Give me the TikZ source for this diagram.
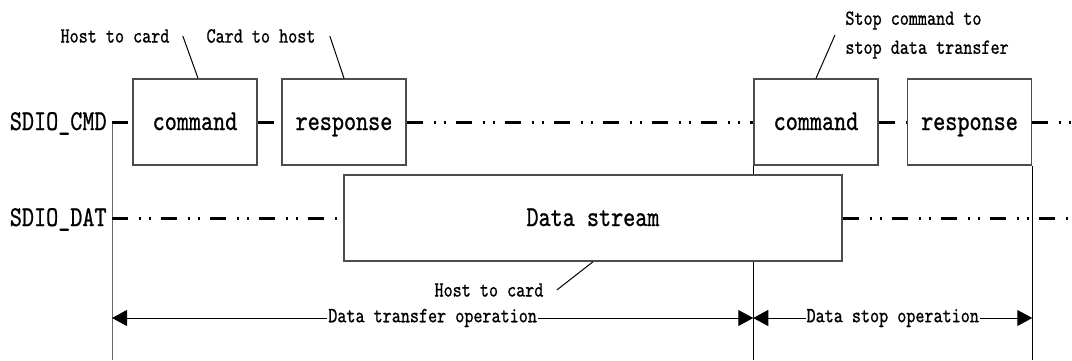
\documentclass[tikz,border=0pt]{standalone}
\usepackage{fontspec}
\setmonofont{lmmono10-regular.otf}[FakeStretch=0.8, FakeBold=0.8]
\usetikzlibrary{arrows.meta,positioning}

\newcommand\sigfont{\ttfamily\fontsize{14.4}{17}\selectfont}
\newcommand\notefont{\ttfamily\fontsize{10.8}{14.5}\selectfont}

\tikzset{
  sigbox/.style={draw=black!70, line width=0.75pt, fill=white, minimum width=62pt, minimum height=43pt, inner sep=0pt, text height=8pt, text depth=0pt, font=\sigfont},
  signame/.style={font=\sigfont, inner sep=0pt, text height=8pt, text depth=0pt, anchor=east},
  notetext/.style={font=\notefont, inner sep=0pt, align=left},
  idle/.style={line width=1.5pt, dash pattern=on 8pt off 5.5pt on 1pt off 4pt on 1pt off 5pt},
  leader/.style={line width=0.5pt},
  opspan/.style={line width=0.5pt, {Triangle[length=7.5pt,width=8pt]}-{Triangle[length=7.5pt,width=8pt]}},
}

\begin{document}
\begin{tikzpicture}[x=0.5pt, y=-0.5pt]
\useasboundingbox (0,0) rectangle (1072,360);

% signal names
\node[signame] (cmd) at (107,122) {SDIO\_CMD};
\node[signame] (dat) at (107,218) {SDIO\_DAT};

% command line boxes
\node[sigbox] (cmdA) at (195,122) {command};
\node[sigbox] (rspA) at (344,122) {response};
\node[sigbox] (cmdB) at (816,122) {command};
\node[sigbox] (rspB) at (969.5,122) {response};

% markers
\coordinate (cmdL) at (112,122);
\coordinate (cmdR) at (1072,122);
\coordinate (datL) at (112,218);
\coordinate (datR) at (1072,218);
\coordinate (opL) at (112,318);
\coordinate (opM) at (cmdB.west |- opL);
\coordinate (opR) at (rspB.east |- opL);

% vertical time marks
\draw[line width=0.5pt, black!60] (cmdL) -- (cmdL |- 0,360);
\draw[line width=0.5pt] (cmdB.south west) -- (cmdB.south west |- 0,360);
\draw[line width=0.5pt] (rspB.south east) -- (rspB.south east |- 0,360);

% data box on top of the marks
\node[sigbox, minimum width=249pt] (data) at (593,218) {Data stream};

% idle bus
\draw[idle] (cmdL) -- (cmdA);
\draw[idle] (cmdA) -- (rspA);
\draw[idle] (rspA) -- (cmdB);
\draw[idle] (cmdB) -- (rspB);
\draw[idle] (rspB) -- (cmdR);
\draw[idle] (datL) -- (data);
\draw[idle] (data) -- (datR);

% notes
\node[notetext] (hostA) at (115,36) {Host to card};
\node[notetext] (cardA) at (261,36) {Card to host};
\node[notetext, anchor=north west] (stopB) at (845,11) {Stop command to\\stop data transfer};
\node[notetext] (hostC) at (489,290) {Host to card};
\draw[leader] ([xshift=6.5pt]hostA.east) -- ([xshift=1.5pt]cmdA.north);
\draw[leader] ([xshift=7pt]cardA.east) -- (rspA.north);
\draw[leader] ([xshift=-5pt]stopB.west) -- (cmdB.north);
\draw[leader] ([xshift=6.5pt]hostC.east) -- (data.south);

% operations
\draw[opspan] (opL) -- (opM) node[midway, fill=white, notetext, inner xsep=0.5pt] {Data transfer operation};
\draw[opspan] (opM) -- (opR) node[midway, fill=white, notetext, inner xsep=0.5pt] {Data stop operation};
\end{tikzpicture}
\end{document}
